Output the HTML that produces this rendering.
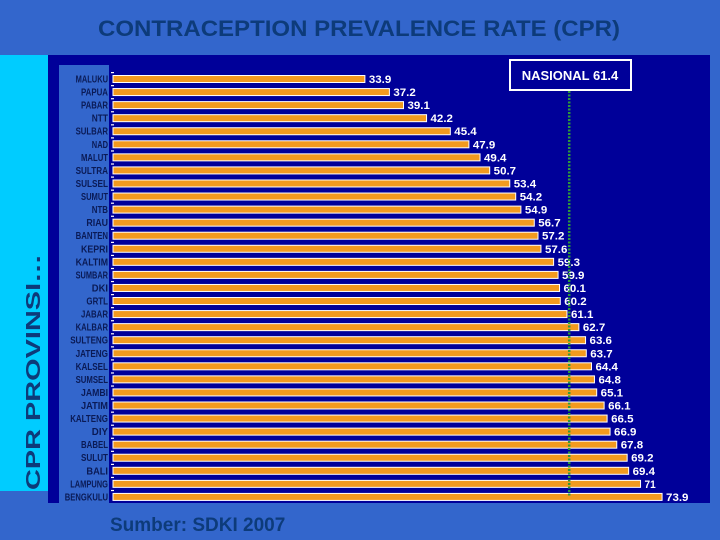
<!DOCTYPE html>
<html><head><meta charset="utf-8"><style>
html,body{margin:0;padding:0;width:720px;height:540px;overflow:hidden;background:#3366cc}
svg{display:block}
</style></head><body>
<svg id="chart" width="720" height="540" viewBox="0 0 720 540" xmlns="http://www.w3.org/2000/svg" font-family="Liberation Sans, Arial, sans-serif">
<rect x="0" y="0" width="720" height="540" fill="#3366cc"/>
<rect x="48" y="55" width="662" height="448" fill="#000099"/>
<rect x="0" y="55" width="48" height="436" fill="#00ccff"/>
<rect x="59" y="65" width="50" height="438" fill="#3366cc"/>
<text x="359" y="36" text-anchor="middle" font-size="22" font-weight="bold" fill="#0d3b7a" textLength="522" lengthAdjust="spacingAndGlyphs">CONTRACEPTION PREVALENCE RATE (CPR)</text>
<text transform="translate(40,372) rotate(-90)" text-anchor="middle" font-size="20" font-weight="bold" fill="#0d3b7a" textLength="236" lengthAdjust="spacingAndGlyphs">CPR PROVINSI…</text>
<text x="110" y="531" font-size="19" font-weight="bold" fill="#0d3b7a">Sumber: SDKI 2007</text>
<g id="bars"></g>
<g>
<rect x="510" y="60" width="121" height="30" fill="#000099" stroke="#fff" stroke-width="2"/>
<text x="570" y="80" text-anchor="middle" font-size="13" font-weight="bold" fill="#fff">NASIONAL 61.4</text>
</g>
</svg>
<script>
const categories=["MALUKU","PAPUA","PABAR","NTT","SULBAR","NAD","MALUT","SULTRA","SULSEL","SUMUT","NTB","RIAU","BANTEN","KEPRI","KALTIM","SUMBAR","DKI","GRTL","JABAR","KALBAR","SULTENG","JATENG","KALSEL","SUMSEL","JAMBI","JATIM","KALTENG","DIY","BABEL","SULUT","BALI","LAMPUNG","BENGKULU"];
const values=[33.9,37.2,39.1,42.2,45.4,47.9,49.4,50.7,53.4,54.2,54.9,56.7,57.2,57.6,59.3,59.9,60.1,60.2,61.1,62.7,63.6,63.7,64.4,64.8,65.1,66.1,66.5,66.9,67.8,69.2,69.4,71,73.9];
const valueLabels=["33.9","37.2","39.1","42.2","45.4","47.9","49.4","50.7","53.4","54.2","54.9","56.7","57.2","57.6","59.3","59.9","60.1","60.2","61.1","62.7","63.6","63.7","64.4","64.8","65.1","66.1","66.5","66.9","67.8","69.2","69.4","71","73.9"];
const nationalValue=[61.4];
const NS="http://www.w3.org/2000/svg";
const x0=113, pxPerUnit=7.43, yTop=79, pitch=13.06;
function xScale(v){return x0+v*pxPerUnit;}
function yScale(i){return yTop+i*pitch;}
const g=document.getElementById('bars');
function mk(tag,attrs){const e=document.createElementNS(NS,tag);for(const k in attrs)e.setAttribute(k,attrs[k]);return e;}
categories.forEach((c,i)=>{
  const yc=yScale(i);
  const tick=mk('rect',{x:x0-2,y:yc-7,width:3,height:1.2,fill:'#fff'});
  
  
  g.appendChild(tick);
  const lab=mk('text',{x:108,y:yc+3.5,'text-anchor':'end','font-size':10,'font-weight':'bold',fill:'#0a1a55',textLength:Math.min(47,c.length*5.4),lengthAdjust:'spacingAndGlyphs'});
  lab.textContent=c;
  
  
  g.appendChild(lab);
  const bar=mk('rect',{x:x0,y:yc-3.5,width:xScale(values[i])-x0,height:7,fill:'#f29a1f',stroke:'#ffffff','stroke-width':1});
  
  
  g.appendChild(bar);
  const vl=mk('text',{x:xScale(values[i])+4,y:yc+4,'font-size':11,'font-weight':'bold',fill:'#fff',textLength:valueLabels[i].length*5.6,lengthAdjust:'spacingAndGlyphs'});
  vl.textContent=valueLabels[i];
  
  
  g.appendChild(vl);
});
const nl=mk('line',{x1:xScale(nationalValue[0]),x2:xScale(nationalValue[0]),y1:91,y2:497,stroke:'#2e9a3a','stroke-width':2.5,'stroke-dasharray':'2,1.5'});


g.appendChild(nl);
</script>
</body></html>
